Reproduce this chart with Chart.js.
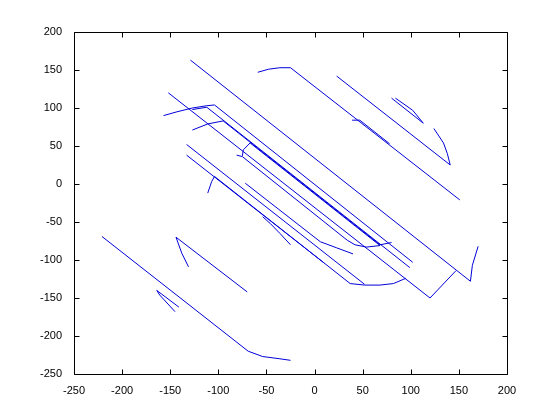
<!DOCTYPE html>
<html>
<head>
<meta charset="utf-8">
<script src="https://cdn.jsdelivr.net/npm/chart.js@4/dist/chart.umd.min.js"></script>
<style>
  html, body { margin: 0; padding: 0; background: #fff; }
  canvas { display: block; }
</style>
</head>
<body>
<canvas id="myChart" width="560" height="420"></canvas>
<script>
// axis ranges / ticks
const xTicks = [-250, -200, -150, -100, -50, 0, 50, 100, 150, 200];
const yTicks = [-250, -200, -150, -100, -50, 0, 50, 100, 150, 200];

// strokes, [x, y] pairs
const s1 = [[-129, 163], [162, -128], [164, -107], [170, -82]];
const s2 = [[-59, 147], [-48, 151], [-36, 153], [-25, 153], [151, -21]];
const s3 = [[23, 142], [141, 25], [138, 40], [134, 54], [124, 73]];
const s4 = [[80, 113], [113, 80], [102, 97], [84, 113]];
const s5 = [[39, 84], [47, 84], [78, 53]];
const s6 = [[-152, 120], [120, -150], [147, -114]];
const s7 = [[-157, 90], [-143, 95], [-127, 100], [-112, 103], [-104, 104], [102, -103]];
const s8 = [[-127, 98], [-112, 101], [99, -110]];
const s9 = [[-127, 71], [-111, 79], [-95, 83], [68, -80], [80, -77]];
const s10 = [[-81, 38], [-75, 36], [34, -74], [42, -80], [54, -83], [68, -81]];
const s11 = [[-75, 37], [-74, 45], [-67, 54], [68, -81]];
const s12 = [[-72, 1], [6, -76], [23, -84], [40, -92]];
const s13 = [[-111, -12], [-107, 3], [-104, 10], [37, -131], [52, -133], [68, -133], [82, -131], [95, -124]];
const s14 = [[-133, 52], [52, -132]];
const s15 = [[-133, 38], [10, -104]];
const s16 = [[-54, -43], [-46, -52], [-36, -65], [-25, -80]];
const s17 = [[-221, -69], [-69, -220], [-54, -227], [-36, -230], [-25, -232]];
const s18 = [[-131, -109], [-138, -91], [-144, -70], [-70, -142]];
const s19 = [[-141, -162], [-164, -140], [-161, -146], [-145, -168]];

const strokes = [s1, s2, s3, s4, s5, s6, s7, s8, s9, s10, s11, s12, s13, s14, s15, s16, s17, s18, s19];

const datasets = strokes.map(function(s) {
    return {
        data: s.map(function(p) { return { x: p[0], y: p[1] }; }),
        showLine: true,
        borderColor: '#0000d8',
        borderWidth: 1,
        pointRadius: 0,
        tension: 0,
        fill: false
    };
});

// box with inward ticks on all sides, like matlab
const boxPlugin = {
    id: 'box',
    afterDraw: function(chart) {
        const c = chart.ctx;
        const a = chart.chartArea;
        const xs = chart.scales.x, ys = chart.scales.y;
        const L = Math.round(a.left) + 0.5, R = Math.round(a.right) + 0.5;
        const T = Math.round(a.top) + 0.5, B = Math.round(a.bottom) + 0.5;
        c.save();
        c.strokeStyle = '#000';
        c.lineWidth = 1;
        c.beginPath();
        c.rect(L, T, R - L, B - T);
        xTicks.forEach(function(v) {
            const px = Math.round(xs.getPixelForValue(v)) + 0.5;
            c.moveTo(px, B); c.lineTo(px, B - 5);
            c.moveTo(px, T); c.lineTo(px, T + 5);
        });
        yTicks.forEach(function(v) {
            const py = Math.round(ys.getPixelForValue(v)) + 0.5;
            c.moveTo(L, py); c.lineTo(L + 5, py);
            c.moveTo(R, py); c.lineTo(R - 5, py);
        });
        c.stroke();
        c.restore();
    }
};

const tickFont = { family: '"Liberation Sans", Arial, Helvetica, sans-serif', size: 11 };

new Chart(document.getElementById('myChart').getContext('2d'), {
    type: 'scatter',
    data: { datasets: datasets },
    options: {
        responsive: false,
        animation: false,
        layout: { padding: { top: 32, right: 53, left: 0, bottom: 0 } },
        plugins: { legend: { display: false }, tooltip: { enabled: false } },
        scales: {
            x: {
                type: 'linear',
                min: -250, max: 200,
                afterBuildTicks: function(s) { s.ticks = xTicks.map(function(v) { return { value: v }; }); },
                afterFit: function(s) { s.height = 46; },
                grid: { display: false },
                border: { display: false },
                ticks: { color: '#000', font: tickFont, padding: 2, maxRotation: 0, autoSkip: false }
            },
            y: {
                type: 'linear',
                min: -250, max: 200,
                afterBuildTicks: function(s) { s.ticks = yTicks.map(function(v) { return { value: v }; }); },
                afterFit: function(s) { s.width = 74; },
                grid: { display: false },
                border: { display: false },
                ticks: { color: '#000', font: tickFont, padding: 4, autoSkip: false }
            }
        }
    },
    plugins: [boxPlugin]
});
</script>
</body>
</html>
